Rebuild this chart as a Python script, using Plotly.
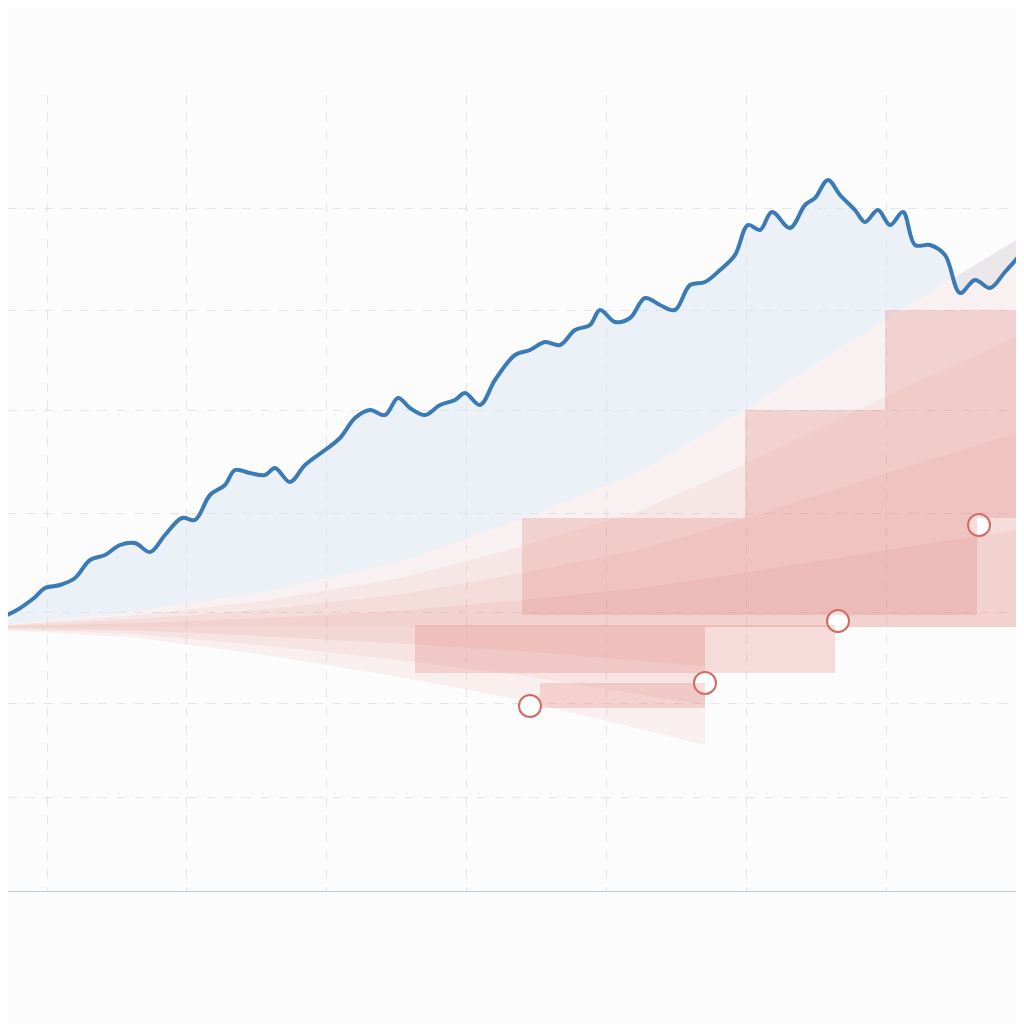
import plotly.graph_objects as go
import numpy as np

line_x = [0, 17, 34, 45, 60, 75, 90, 105, 120, 135, 150, 165, 182, 195, 210, 225, 235, 250, 265, 275,
          290, 305, 325, 340, 355, 370, 385, 398, 410, 425, 440, 455, 465, 480, 495, 515, 530, 545, 560,
          575, 590, 600, 615, 630, 645, 660, 675, 690, 705, 720, 735, 748, 760, 772, 790, 805, 815, 828,
          840, 855, 865, 878, 890, 903, 915, 930, 945, 960, 975, 990, 1005, 1020]
line_py = [618, 610, 598, 588, 585, 578, 560, 555, 545, 543, 552, 535, 518, 520, 495, 485, 470, 473, 475, 468,
           482, 465, 450, 438, 418, 410, 415, 398, 408, 415, 405, 400, 393, 405, 380, 355, 350, 342, 345,
           330, 325, 310, 322, 318, 298, 305, 310, 285, 282, 270, 255, 225, 230, 212, 228, 205, 198, 180,
           195, 210, 222, 210, 225, 212, 245, 245, 255, 293, 280, 288, 272, 255]
line_y = [892 - p for p in line_py]

fan_x = [0, 130, 265, 400, 520, 640, 745, 885, 1024]
fan_upper = [267, 280, 300, 330, 372, 420, 482, 572, 657]
fan_mid = [265, 265, 265, 265, 265, 265, 265, 265, 265]
low_x = [0, 130, 265, 400, 520, 620, 705]
fan_lower = [262, 255, 237, 215, 192, 168, 147]

steps = [  # x0, x1, y0, y1
    (540, 705, 184, 209),
    (415, 835, 219, 267),
    (522, 977, 277, 374),
    (745, 1024, 374, 482),
    (885, 1024, 482, 582),
]
pts_x = [530, 705, 838, 979]
pts_y = [186, 209, 271, 367]

grid_x = [47, 186, 326, 466, 606, 746, 886]
grid_y = [95, 189, 280, 379, 482, 582, 684]

fig = go.Figure()

# light blue area under the line, down to the fan top
fig.add_trace(go.Scatter(x=fan_x, y=fan_upper, mode="lines", line=dict(width=0), hoverinfo="skip"))
fig.add_trace(go.Scatter(x=line_x, y=line_y, mode="lines", line=dict(width=0),
                         fill="tonexty", fillcolor="rgba(215,228,238,0.45)", hoverinfo="skip"))

# fan bands, fading outward
ux = np.array(fan_x)
for k, a in zip([1.0, 0.75, 0.5, 0.25], [0.09, 0.09, 0.10, 0.10]):
    top = np.array(fan_mid) + k * (np.array(fan_upper) - np.array(fan_mid))
    fig.add_trace(go.Scatter(x=ux, y=fan_mid, mode="lines", line=dict(width=0), hoverinfo="skip"))
    fig.add_trace(go.Scatter(x=ux, y=top, mode="lines", line=dict(width=0), fill="tonexty",
                             fillcolor=f"rgba(226,130,120,{a})", hoverinfo="skip"))
lx = np.array(low_x)
mid_l = np.interp(lx, fan_x, fan_mid)
for k, a in zip([1.0, 0.66, 0.33], [0.10, 0.10, 0.12]):
    bot = mid_l + k * (np.array(fan_lower) - mid_l)
    fig.add_trace(go.Scatter(x=lx, y=mid_l, mode="lines", line=dict(width=0), hoverinfo="skip"))
    fig.add_trace(go.Scatter(x=lx, y=bot, mode="lines", line=dict(width=0), fill="tonexty",
                             fillcolor=f"rgba(226,130,120,{a})", hoverinfo="skip"))

for x0, x1, y0, y1 in steps:
    fig.add_shape(type="rect", x0=x0, x1=x1, y0=y0, y1=y1, line=dict(width=0),
                  fillcolor="rgba(222,120,110,0.25)", layer="above")

fig.add_trace(go.Scatter(x=line_x, y=line_y, mode="lines",
                         line=dict(color="#3a7bb5", width=4, shape="spline", smoothing=1.0)))
fig.add_trace(go.Scatter(x=pts_x, y=pts_y, mode="markers",
                         marker=dict(size=22, color="white", line=dict(color="#d06a62", width=2))))

# the page has an 8px body margin, so the ranges/margins are shifted to line up
fig.update_layout(
    width=1024, height=1024, showlegend=False,
    paper_bgcolor="#fcfcfd", plot_bgcolor="#fcfcfd",
    margin=dict(l=0, r=0, t=87, b=140),
    xaxis=dict(range=[8, 1032], tickvals=grid_x, showticklabels=False, zeroline=False,
               gridcolor="rgba(200,205,215,0.5)", griddash="dash"),
    yaxis=dict(range=[0, 797], tickvals=grid_y, showticklabels=False, zeroline=False,
               gridcolor="rgba(200,205,215,0.5)", griddash="dash",
               showline=False),
)
fig.add_shape(type="line", xref="paper", yref="y", x0=0, x1=1, y0=0, y1=0,
              line=dict(color="#b8c8dc", width=2))
fig.write_html("out.html")
